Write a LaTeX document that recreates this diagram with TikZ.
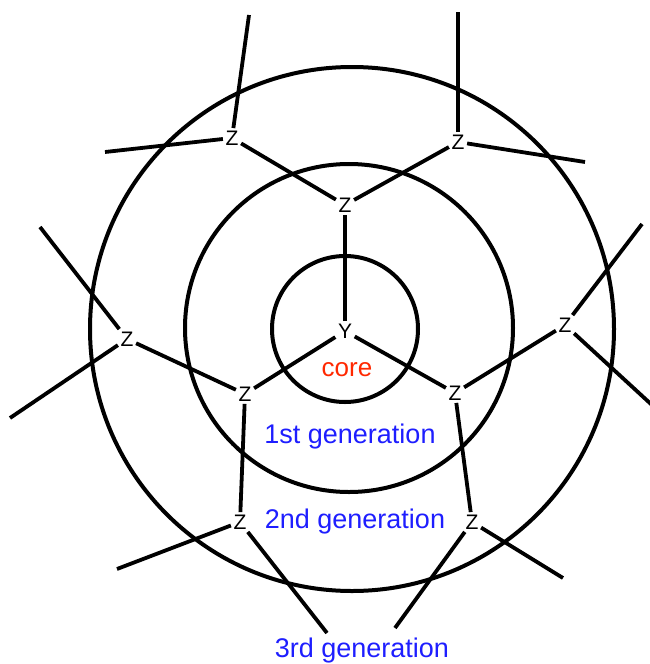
\documentclass[tikz,border=0pt]{standalone}
\usepackage{fontspec}
\setmainfont{Liberation Sans}
\definecolor{corered}{RGB}{255,40,0}
\definecolor{genblue}{RGB}{30,30,255}
\begin{document}
\begin{tikzpicture}[x=1pt,y=-1pt,
  ring/.style={line width=4pt},
  bond/.style={line width=3.8pt},
  atom/.style={font=\fontsize{21}{21}\selectfont, inner sep=2.5pt},
  glabel/.style={font=\fontsize{27}{27}\selectfont, text=genblue},
  clabel/.style={font=\fontsize{26}{26}\selectfont, text=corered}]
\useasboundingbox (0,0) rectangle (650,664);
% rings
\draw[ring] (345,329) circle (73);
\draw[ring] (349,328) circle (164);
\draw[ring] (352,329) circle (262);
% atoms
\node[atom] (Y) at (345,331) {Y};
\node[atom] (A) at (345,205) {Z};
\node[atom] (B) at (245,394) {Z};
\node[atom] (C) at (455,393) {Z};
\node[atom] (A1) at (232,138) {Z};
\node[atom] (A2) at (458,142) {Z};
\node[atom] (B1) at (127,339) {Z};
\node[atom] (B2) at (240,522) {Z};
\node[atom] (C1) at (565,325) {Z};
\node[atom] (C2) at (472,522) {Z};
% free ends
\coordinate (a1u) at (249,15);
\coordinate (a1l) at (105,152);
\coordinate (a2u) at (458,12);
\coordinate (a2r) at (585,162);
\coordinate (b1u) at (40,227);
\coordinate (b1l) at (10,418);
\coordinate (b2l) at (117,569);
\coordinate (b2d) at (327,633);
\coordinate (c1u) at (642,224);
\coordinate (c1d) at (652,405);
\coordinate (c2d) at (395,628);
\coordinate (c2r) at (563,578);
% bonds
\draw[bond] (Y) -- (A);
\draw[bond] (Y) -- (B);
\draw[bond] (Y) -- (C);
\draw[bond] (A) -- (A1);
\draw[bond] (A) -- (A2);
\draw[bond] (B) -- (B1);
\draw[bond] (B) -- (B2);
\draw[bond] (C) -- (C1);
\draw[bond] (C) -- (C2);
\draw[bond] (A1) -- (a1u);
\draw[bond] (A1) -- (a1l);
\draw[bond] (A2) -- (a2u);
\draw[bond] (A2) -- (a2r);
\draw[bond] (B1) -- (b1u);
\draw[bond] (B1) -- (b1l);
\draw[bond] (B2) -- (b2l);
\draw[bond] (B2) -- (b2d);
\draw[bond] (C1) -- (c1u);
\draw[bond] (C1) -- (c1d);
\draw[bond] (C2) -- (c2d);
\draw[bond] (C2) -- (c2r);
% labels
\node[clabel] (core) at (347,370) {core};
\node[glabel] (g1) at (350,437) {1st generation};
\node[glabel] (g2) at (355,522) {2nd generation};
\node[glabel] (g3) at (362,651) {3rd generation};
\end{tikzpicture}
\end{document}
